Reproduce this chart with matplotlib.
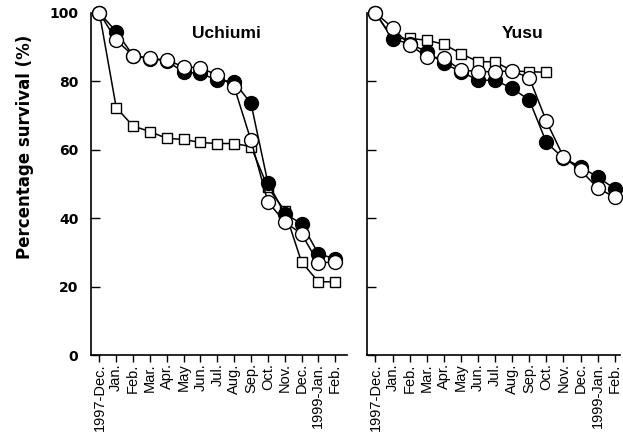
import matplotlib
matplotlib.use("Agg")
import matplotlib.pyplot as plt

months = ["1997-Dec.", "Jan.", "Feb.", "Mar.", "Apr.", "May", "Jun.", "Jul.",
          "Aug.", "Sep.", "Oct.", "Nov.", "Dec.", "1999-Jan.", "Feb."]

# Uchiumi
uchi_filled = [100, 94.5, 87.5, 86.5, 86, 82.6, 82.3, 80.3, 79.8, 73.5, 50.4, 41.3, 38.4, 29.6, 28.1]
uchi_open = [100, 92, 87.5, 86.7, 86.2, 84.2, 83.9, 81.8, 78.4, 62.7, 44.8, 38.9, 35.4, 26.9, 27.2]
uchi_square = [100, 72.3, 66.9, 65.3, 63.3, 63, 62.1, 61.8, 61.8, 60.9, 49, 42.2, 27.2, 21.4, 21.4]

# Yusu
yusu_filled = [100, 92.3, 91, 88.6, 85.2, 82.8, 80.3, 80.3, 77.9, 74.5, 62.1, 57.5, 55, 52, 48.6]
yusu_open = [100, 95.6, 90.6, 87.2, 86.7, 83.3, 82.8, 82.8, 83, 81, 68.3, 57.9, 54, 48.8, 46.1]
yusu_square = [100, 92.5, 92.5, 92, 90.8, 88.1, 85.7, 85.7, 83, 82.8, 82.6]

plt.rcParams["font.family"] = ["Liberation Sans", "DejaVu Sans"]

fig = plt.figure(figsize=(6.23, 4.41), dpi=100)
ax1 = fig.add_axes([0.146, 0.195, 0.411, 0.776])
ax2 = fig.add_axes([0.589, 0.195, 0.406, 0.776])


def draw(ax, filled, opened, square, title, tx, xmax):
    x = list(range(len(months)))
    ax.plot(range(len(square)), square, color="black", lw=1.1, marker="s", ms=7,
            mfc="white", mec="black", mew=1, zorder=3, clip_on=False)
    ax.plot(x, filled, color="black", lw=1.1, marker="o", ms=10,
            mfc="black", mec="black", mew=1, zorder=4, clip_on=False)
    ax.plot(x, opened, color="black", lw=1.1, marker="o", ms=10,
            mfc="white", mec="black", mew=1, zorder=5, clip_on=False)
    ax.set_xlim(-0.5, xmax)
    ax.set_ylim(0, 100)
    ax.set_xticks(x)
    ax.set_xticklabels(months, rotation=90, fontsize=10.5)
    ax.set_yticks([0, 20, 40, 60, 80, 100])
    ax.spines["top"].set_visible(False)
    ax.spines["right"].set_visible(False)
    for s in ["left", "bottom"]:
        ax.spines[s].set_linewidth(1.2)
    ax.tick_params(axis="y", direction="in", length=6.5, width=1, pad=9)
    ax.tick_params(axis="x", direction="out", length=5, width=1, pad=1)
    ax.text(tx, 0.94, title, transform=ax.transAxes, ha="center", va="center",
            fontsize=12.5, fontweight="bold")


draw(ax1, uchi_filled, uchi_open, uchi_square, "Uchiumi", 0.53, 14.7)
draw(ax2, yusu_filled, yusu_open, yusu_square, "Yusu", 0.617, 14.3)

for lab in ax1.get_yticklabels():
    lab.set_fontweight("bold")
    lab.set_fontsize(10)
    lab.set_family("DejaVu Sans")
ax2.set_yticklabels([])

fig.text(0.04, 0.667, "Percentage survival (%)", rotation=90, ha="center", va="center",
         fontsize=12, fontweight="bold", family="DejaVu Sans")

fig.savefig("out.png", dpi=100)
